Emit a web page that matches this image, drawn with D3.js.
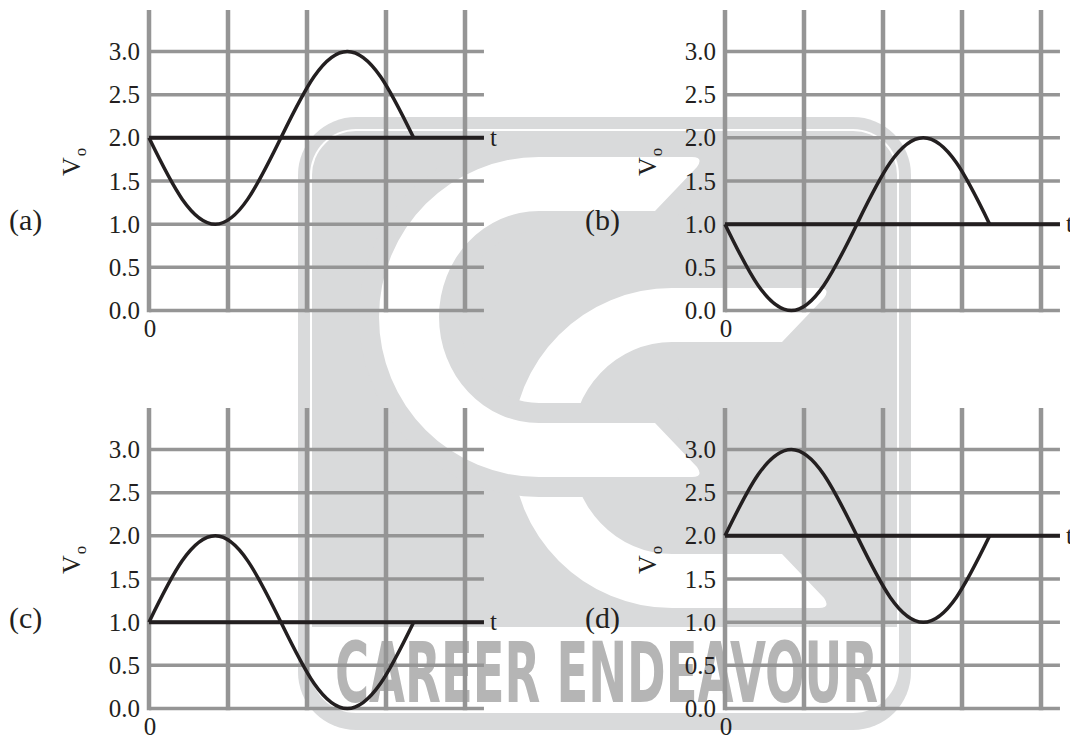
<!DOCTYPE html>
<html>
<head>
<meta charset="utf-8">
<script src="https://cdn.jsdelivr.net/npm/d3@7/dist/d3.min.js"></script>
<style>
  body { margin: 0; background: #ffffff; }
  svg { display: block; }
</style>
</head>
<body>
<svg id="chart" width="1070" height="735"></svg>
<script>
// data
const panelLabels = ["(a)", "(b)", "(c)", "(d)"];
const panelLevels = [2.0, 1.0, 1.0, 2.0];          // dc level where the t axis sits
const yTicks = [0.0, 0.5, 1.0, 1.5, 2.0, 2.5, 3.0];
const xGrid = [0, 1, 2, 3, 4];
const xEnd = 4.24;
const waveT = [0, 0.42, 0.84, 1.25, 1.67, 2.09, 2.51, 2.93, 3.35];
const waveA = [2.0, 1.29, 1.0, 1.29, 2.0, 2.71, 3.0, 2.71, 2.0];
const waveB = [1.0, 0.29, 0.0, 0.29, 1.0, 1.71, 2.0, 1.71, 1.0];
const waveC = [1.0, 1.71, 2.0, 1.71, 1.0, 0.29, 0.0, 0.29, 1.0];
const waveD = [2.0, 2.71, 3.0, 2.71, 2.0, 1.29, 1.0, 1.29, 2.0];
const waves = [waveA, waveB, waveC, waveD];

let gridColor = "#959595";
let inkColor = "#231f20";
let markGray = "#d9dadb";
let serif = "'Liberation Serif', 'Times New Roman', serif";

let svg = d3.select("#chart");

drawWatermark(svg);

let x = d3.scaleLinear().domain([0, 4]).range([0, 316]);
let y = d3.scaleLinear().domain([0, 3]).range([310.5, 51.5]);

let line = d3.line()
  .x((d, i) => x(waveT[i]))
  .y(d => y(d))
  .curve(d3.curveNatural);

panelLabels.forEach(function(label, i) {
  let ox = 149 + (i % 2) * 576;
  let oy = Math.floor(i / 2) * 398;
  let g = svg.append("g").attr("transform", "translate(" + ox + "," + oy + ")");

  // grid
  g.selectAll(".hgrid")
    .data(yTicks)
    .enter()
    .append("line")
    .attr("x1", x(0))
    .attr("x2", x(xEnd))
    .attr("y1", d => y(d))
    .attr("y2", d => y(d))
    .style("stroke", gridColor)
    .style("stroke-width", 3.5);

  g.selectAll(".vgrid")
    .data(xGrid)
    .enter()
    .append("line")
    .attr("x1", d => x(d))
    .attr("x2", d => x(d))
    .attr("y1", 10)
    .attr("y2", y(0) + 1.75)
    .style("stroke", gridColor)
    .style("stroke-width", 4.5);

  // tick labels
  let axis = d3.axisLeft(y)
    .tickValues(yTicks)
    .tickFormat(d3.format(".1f"))
    .tickSize(0)
    .tickPadding(9);
  let ax = g.append("g").call(axis);
  ax.select(".domain").remove();
  ax.selectAll("text")
    .style("font-family", serif)
    .style("font-size", "25px")
    .style("fill", inkColor);

  // t axis at the dc level
  g.append("line")
    .attr("x1", x(0))
    .attr("x2", x(xEnd))
    .attr("y1", y(panelLevels[i]))
    .attr("y2", y(panelLevels[i]))
    .style("stroke", inkColor)
    .style("stroke-width", 4);

  g.append("path")
    .attr("d", line(waves[i]))
    .style("fill", "none")
    .style("stroke", inkColor)
    .style("stroke-width", 3.5)
    .style("stroke-linejoin", "round");

  g.append("text")
    .attr("x", x(xEnd) + 6)
    .attr("y", y(panelLevels[i]) + 8)
    .text("t")
    .style("font-family", serif)
    .style("font-size", "25px")
    .style("fill", inkColor);

  g.append("text")
    .attr("x", x(0) + 1)
    .attr("y", y(0) + 26.5)
    .text("0")
    .style("text-anchor", "middle")
    .style("font-family", serif)
    .style("font-size", "25px")
    .style("fill", inkColor);

  let vo = g.append("text")
    .attr("transform", "translate(-69,176) rotate(-90)")
    .style("font-family", serif)
    .style("fill", inkColor);
  vo.append("tspan").text("V").style("font-size", "26px");
  vo.append("tspan").attr("dx", 1).attr("dy", 6).text("o").style("font-size", "17px");

  g.append("text")
    .attr("x", -140)
    .attr("y", 229.5)
    .text(label)
    .style("font-family", serif)
    .style("font-size", "30px")
    .style("fill", inkColor);
});

function cShape(cx, cy, R, rx, ry, len) {
  let tip = cx + len;
  return "M" + cx + "," + (cy - R) +
    " L" + (tip - 8) + "," + (cy - R) +
    " Q" + (tip + 4) + "," + (cy - R) + " " + (tip - 3) + "," + (cy - R + 10) +
    " L" + (tip - 45) + "," + (cy - ry) +
    " L" + cx + "," + (cy - ry) +
    " A" + rx + "," + ry + " 0 0 0 " + cx + "," + (cy + ry) +
    " L" + (tip - 45) + "," + (cy + ry) +
    " L" + (tip - 3) + "," + (cy + R - 10) +
    " Q" + (tip + 4) + "," + (cy + R) + " " + (tip - 8) + "," + (cy + R) +
    " L" + cx + "," + (cy + R) +
    " A" + R + "," + R + " 0 0 1 " + cx + "," + (cy - R) + " Z";
}

function drawWatermark(svg) {
  let wm = svg.append("g");

  wm.append("rect")
    .attr("x", 298).attr("y", 117)
    .attr("width", 613).attr("height", 613)
    .attr("rx", 58).attr("ry", 58)
    .style("fill", markGray);

  wm.append("rect")
    .attr("x", 310).attr("y", 129)
    .attr("width", 589).attr("height", 584)
    .attr("rx", 46).attr("ry", 46)
    .style("fill", "#ffffff");

  wm.append("path")
    .attr("d", "M312,627 V175 A44,44 0 0 1 356,131 H853 A44,44 0 0 1 897,175 V627 Z")
    .style("fill", markGray);

  // lower right C
  wm.append("path")
    .attr("d", cShape(672, 448, 160, 101, 106, 155))
    .style("fill", "#ffffff");

  // upper left C, with a gray gap around it
  let c1 = cShape(539, 317, 160, 100, 106, 161);
  wm.append("path")
    .attr("d", c1)
    .style("fill", markGray)
    .style("stroke", markGray)
    .style("stroke-width", 40)
    .style("stroke-linejoin", "round");
  wm.append("path")
    .attr("d", c1)
    .style("fill", "#ffffff");

  wm.append("text")
    .attr("x", 335)
    .attr("y", 702)
    .attr("textLength", 543)
    .attr("lengthAdjust", "spacingAndGlyphs")
    .text("CAREER ENDEAVOUR")
    .style("font-family", "'Liberation Sans Narrow', 'DejaVu Sans Condensed', 'Liberation Sans', sans-serif")
    .style("font-weight", "bold")
    .style("font-size", "84px")
    .style("fill", "#b5b5b5");
}
</script>
</body>
</html>
